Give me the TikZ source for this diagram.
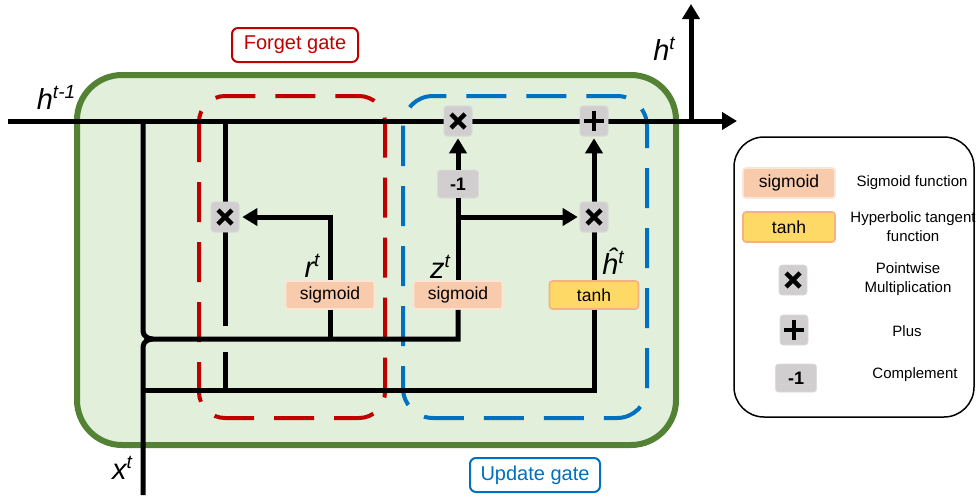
\documentclass[tikz,border=0pt]{standalone}
\usepackage{fontspec}
\setmainfont{Liberation Sans}
\usetikzlibrary{arrows.meta}
\definecolor{cellfill}{HTML}{E2EFDA}
\definecolor{celledge}{HTML}{548235}
\definecolor{gatered}{HTML}{C00000}
\definecolor{gateblue}{HTML}{0070C0}
\definecolor{sigfill}{HTML}{F8CBAD}
\definecolor{sigedge}{HTML}{FBE5D6}
\definecolor{tanhfill}{HTML}{FFD966}
\definecolor{tanhedge}{HTML}{F4B183}
\definecolor{opfill}{HTML}{D0CECE}
\definecolor{opedge}{HTML}{DDDBDB}
\newcommand{\vlabel}[2]{{\fontsize{29}{29}\selectfont\itshape #1}\raisebox{11pt}{\fontsize{19}{19}\selectfont\itshape #2}}
\tikzset{
  wire/.style={line width=5pt},
  arr/.style={line width=5pt,-{Triangle[length=15pt,width=17pt]}},
  funcbox/.style={line width=1.6pt, rounded corners=3pt, minimum width=89pt,
    minimum height=28pt, inner sep=0pt, font=\fontsize{17.5}{17.5}\selectfont},
  sigbox/.style={funcbox, draw=sigedge, fill=sigfill},
  tanhbox/.style={funcbox, draw=tanhedge, fill=tanhfill},
  opbox/.style={fill=opfill, draw=opedge, line width=0.6pt,
    rounded corners=3pt, minimum width=28pt, minimum height=30pt, inner sep=0pt},
  crossop/.style={opbox, path picture={
    \draw[black, line width=4.5pt]
      ([shift={(-7pt,-7pt)}]path picture bounding box.center) --
      ([shift={(7pt,7pt)}]path picture bounding box.center)
      ([shift={(-7pt,7pt)}]path picture bounding box.center) --
      ([shift={(7pt,-7pt)}]path picture bounding box.center);}},
  plusop/.style={opbox, path picture={
    \draw[black, line width=4.5pt]
      ([shift={(-10pt,0pt)}]path picture bounding box.center) --
      ([shift={(10pt,0pt)}]path picture bounding box.center)
      ([shift={(0pt,-10pt)}]path picture bounding box.center) --
      ([shift={(0pt,10pt)}]path picture bounding box.center);}},
  negop/.style={opbox, minimum width=41pt, minimum height=28pt,
    font=\fontsize{18}{18}\selectfont\bfseries},
  gatetag/.style={line width=2pt, rounded corners=6pt, fill=white,
    minimum height=34pt, font=\fontsize{20}{20}\selectfont},
  legtext/.style={font=\fontsize{15}{19}\selectfont, align=center},
}
\begin{document}
\begin{tikzpicture}[x=1pt,y=-1pt]
\useasboundingbox (0,0) rectangle (976,498);

% cell body and gate regions
\draw[celledge, fill=cellfill, line width=6pt, rounded corners=45pt] (77,75) rectangle (676,445);
\draw[gatered, line width=4pt, dash pattern=on 40pt off 20pt, rounded corners=26pt] (199,96) rectangle (385,418);
\draw[gateblue, line width=4pt, dash pattern=on 40pt off 20pt, rounded corners=30pt] (403,96) rectangle (647,418);

% gate captions
\node[gatetag, draw=gatered, text=gatered, minimum width=126pt] (fgtag) at (295,45) {Forget gate};
\node[gatetag, draw=gateblue, text=gateblue, minimum width=130pt] (uptag) at (535,475) {Update gate};

% operator and function nodes
\node[crossop] (mulr) at (225,217) {};
\node[sigbox] (rsig) at (330,295) {sigmoid};
\node[sigbox] (zsig) at (458,295) {sigmoid};
\node[negop] (neg) at (458,184) {-1};
\node[crossop] (mulz) at (458,121) {};
\node[tanhbox] (tanh) at (594,295) {tanh};
\node[crossop] (mulh) at (594,217) {};
\node[plusop] (plus) at (594,121) {};

% junction points
\coordinate (hin) at (8,121);
\coordinate (hout) at (737,121);
\coordinate (hup) at (691,121);
\coordinate (htop) at (691,4);
\coordinate (xin) at (143,495);
\coordinate (lefttop) at (143,121);
\coordinate (merge) at (153,339);
\coordinate (rtap) at (225,121);
\coordinate (rgapa) at (225,326);
\coordinate (rgapb) at (225,352);
\coordinate (rlow) at (225,390);
\coordinate (xlow) at (143,390);
\coordinate (zbranch) at (458,217);

% wires
\draw[arr] (hin) -- (hout);
\draw[arr] (hup) -- (htop);
\draw[wire] (lefttop) -- (143,331) to[out=-90,in=180] (merge) -- (458,339) -- (zsig.south);
\draw[wire] (xin) -- (143,347) to[out=90,in=180] (merge);
\draw[wire] (330,339) -- (rsig.south);
\draw[wire] (xlow) -- (594,390) -- (tanh.south);
\draw[wire] (rtap) -- (rgapa);
\draw[wire] (rgapb) -- (rlow);
\draw[arr, shorten >=3pt] (rsig.north) -- (330,217) -- (mulr.east);
\draw[wire] (zsig.north) -- (neg.south);
\draw[arr, shorten >=2pt] (neg.north) -- (mulz.south);
\draw[arr, shorten >=2pt] (zbranch) -- (mulh.west);
\draw[wire] (tanh.north) -- (mulh.south);
\draw[arr, shorten >=2pt] (mulh.north) -- (plus.south);

% redraw operators above the wires
\node[crossop] at (mulr) {};
\node[crossop] at (mulz) {};
\node[crossop] at (mulh) {};
\node[plusop] at (plus) {};

% signal labels
\node (lhprev) at (56,97) {\vlabel{h}{t-1}};
\node (lhnext) at (664,49) {\vlabel{h}{t}};
\node (lx) at (122,468) {\vlabel{x}{t}};
\node (lr) at (312,266) {\vlabel{r}{t}};
\node (lz) at (440,267) {\vlabel{z}{t}};
\node (lhh) at (613,261) {\vlabel{ĥ}{t}};

% legend
\draw[line width=1.5pt, rounded corners=30pt] (734,137) rectangle (974,417);
\node[sigbox, minimum width=92pt, minimum height=30pt] (lgsig) at (789,183) {sigmoid};
\node[tanhbox, minimum width=92pt, minimum height=30pt] (lgtanh) at (789,227) {tanh};
\node[crossop] (lgmul) at (793,280) {};
\node[plusop] (lgplus) at (794,330) {};
\node[negop] (lgneg) at (796,378) {-1};
\node[legtext] (tsig) at (912,183) {Sigmoid function};
\node[legtext] (ttanh) at (913,227) {Hyperbolic tangent\\function};
\node[legtext] (tmul) at (908,279) {Pointwise\\Multiplication};
\node[legtext] (tplus) at (907,331) {Plus};
\node[legtext] (tneg) at (915,375) {Complement};
\end{tikzpicture}
\end{document}
